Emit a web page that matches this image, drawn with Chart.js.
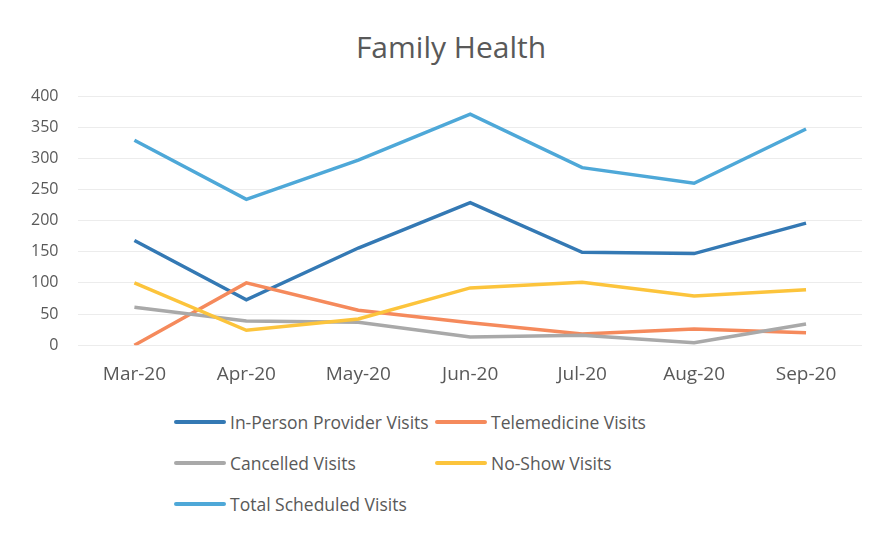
<!DOCTYPE html>
<html>
<head>
<meta charset="utf-8">
<script src="https://cdn.jsdelivr.net/npm/chart.js@4"></script>
<style>
    html, body { margin: 0; padding: 0; background: #fff; }
    #wrap { position: relative; width: 875px; height: 538px; }
    #title {
        position: absolute; left: 0; top: 27px; width: 902px; text-align: center;
        font-family: "Open Sans", sans-serif; font-size: 30px; color: #595959; line-height: 40px;
    }
    #chartBox { position: absolute; left: 0; top: 0; width: 875px; height: 404px; }
    #legend {
        position: absolute; left: 174px; top: 410px;
        display: grid; grid-template-columns: 261px 260px; row-gap: 17px;
        font-family: "Open Sans", sans-serif; font-size: 17.5px; color: #595959;
    }
    .item { display: flex; align-items: center; height: 24px; white-space: nowrap; }
    .swatch { width: 52px; height: 4px; border-radius: 2px; margin-right: 4px; }
</style>
</head>
<body>
<div id="wrap">
    <div id="title">Family Health</div>
    <div id="chartBox"><canvas id="healthChart"></canvas></div>
    <div id="legend"></div>
</div>
<script>
// Months on the x axis
const months = ['Mar-20', 'Apr-20', 'May-20', 'Jun-20', 'Jul-20', 'Aug-20', 'Sep-20'];

// Series values
const inPerson = [168, 73, 156, 229, 149, 147, 196];
const telemedicine = [0, 100, 56, 36, 18, 26, 20];
const cancelled = [61, 39, 37, 13, 16, 4, 34];
const noShow = [100, 24, 42, 92, 101, 79, 89];
const totalScheduled = [329, 234, 297, 371, 285, 260, 347];

// Y axis ticks
const yTicks = [0, 50, 100, 150, 200, 250, 300, 350, 400];

const textColor = '#595959';
const fontFamily = '"Open Sans", sans-serif';

function series(label, data, color, order) {
    return {
        label: label,
        data: data,
        borderColor: color,
        backgroundColor: color,
        borderWidth: 3.5,
        pointRadius: 0,
        tension: 0,
        order: order
    };
}

const healthChart = new Chart(document.getElementById('healthChart'), {
    type: 'line',
    data: {
        labels: months,
        datasets: [
            series('In-Person Provider Visits', inPerson, '#3479b4', 5),
            series('Telemedicine Visits', telemedicine, '#f58a5c', 4),
            series('Cancelled Visits', cancelled, '#a9a9a9', 3),
            series('No-Show Visits', noShow, '#fcc43c', 2),
            series('Total Scheduled Visits', totalScheduled, '#4ea8d8', 1)
        ]
    },
    options: {
        responsive: true,
        maintainAspectRatio: false,
        animation: false,
        layout: {
            padding: { left: 11, right: 13, top: 96, bottom: 0 }
        },
        plugins: {
            legend: { display: false },
            tooltip: { enabled: false },
            title: { display: false }
        },
        scales: {
            y: {
                min: 0,
                max: 400,
                afterBuildTicks: axis => {
                    axis.ticks = yTicks.map(v => ({ value: v }));
                },
                border: { display: false },
                grid: { color: '#ececec', drawTicks: false, lineWidth: 1 },
                ticks: {
                    color: textColor,
                    padding: 20,
                    font: { family: fontFamily, size: 16 }
                }
            },
            x: {
                offset: true,
                border: { display: false },
                grid: { display: false, drawTicks: false },
                ticks: {
                    color: textColor,
                    padding: 18,
                    maxRotation: 0,
                    font: { family: fontFamily, size: 19 }
                }
            }
        }
    }
});

// Legend laid out in two columns like the original
const legendBox = document.getElementById('legend');
healthChart.data.datasets.forEach(ds => {
    const item = document.createElement('div');
    item.className = 'item';
    item.innerHTML = `<span class="swatch" style="background:${ds.borderColor}"></span><span>${ds.label}</span>`;
    legendBox.appendChild(item);
});
</script>
</body>
</html>
